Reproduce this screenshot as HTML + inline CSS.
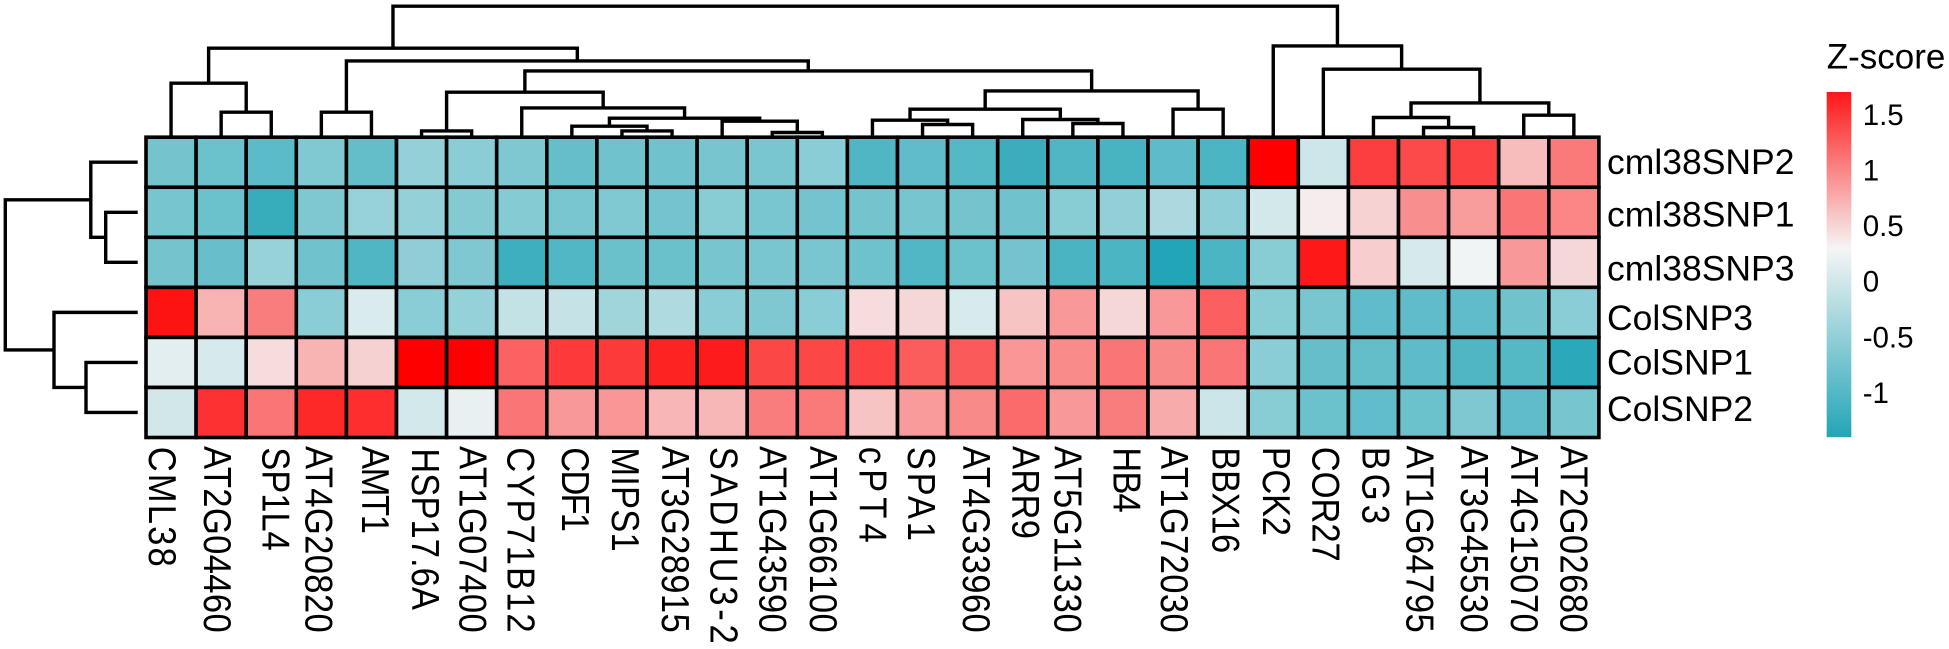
<!DOCTYPE html>
<html lang="en">
<head>
<meta charset="utf-8">
<title>Z-score heatmap</title>
<style>
html,body{margin:0;padding:0;background:#fff;width:1949px;height:649px;overflow:hidden}
svg{display:block}
text{font-family:"Liberation Sans",Arial,sans-serif;fill:#000}
.rl{font-size:35.5px}
.cl{font-size:34.6px}
.lg{font-size:29.5px}
</style>
</head>
<body>
<svg id="chart" xmlns="http://www.w3.org/2000/svg" width="1949" height="649" viewBox="0 0 1949 649">
<rect width="1949" height="649" fill="#fff"/>
<g id="col-dendro" fill="none" stroke="#000" stroke-width="3.4"></g>
<g id="row-dendro" fill="none" stroke="#000" stroke-width="3.4"></g>
<g id="cells" stroke="#000" stroke-width="3.6"></g>

<g>
<text class="rl" x="1607" y="174">cml38SNP2</text>
<text class="rl" x="1607" y="226.7">cml38SNP1</text>
<text class="rl" x="1607" y="280.7">cml38SNP3</text>
<text class="rl" x="1607" y="330">ColSNP3</text>
<text class="rl" x="1607" y="374.3">ColSNP1</text>
<text class="rl" x="1607" y="421">ColSNP2</text>
</g>

<g>
<text class="cl" transform="translate(149 446.7) rotate(90) scale(1 1.12)" textLength="120">CML38</text>
<text class="cl" transform="translate(204 446) rotate(90) scale(1 1.12)" textLength="186.7">AT2G04460</text>
<text class="cl" transform="translate(262.6 447.3) rotate(90) scale(1 1.12)" textLength="103.4">SP1L4</text>
<text class="cl" transform="translate(305.5 446) rotate(90) scale(1 1.12)" textLength="186.7">AT4G20820</text>
<text class="cl" transform="translate(362 446) rotate(90) scale(1 1.12)" textLength="88">AMT1</text>
<text class="cl" transform="translate(412 448.3) rotate(90) scale(1 1.12)" textLength="161.7">HSP17.6A</text>
<text class="cl" transform="translate(459.7 446) rotate(90) scale(1 1.12)" textLength="186.7">AT1G07400</text>
<text class="cl" transform="translate(507.6 447.3) rotate(90) scale(1 1.12)" textLength="185.3">CYP71B12</text>
<text class="cl" transform="translate(562 447.3) rotate(90) scale(1 1.12)" textLength="84.7">CDF1</text>
<text class="cl" transform="translate(612 447.3) rotate(90) scale(1 1.12)" textLength="104.4">MIPS1</text>
<text class="cl" transform="translate(661.8 446) rotate(90) scale(1 1.12)" textLength="186.7">AT3G28915</text>
<text class="cl" transform="translate(710.6 446.7) rotate(90) scale(1 1.12)" textLength="197">SADHU3-2</text>
<text class="cl" transform="translate(759.6 446) rotate(90) scale(1 1.12)" textLength="186.7">AT1G43590</text>
<text class="cl" transform="translate(809.8 446) rotate(90) scale(1 1.12)" textLength="186.7">AT1G66100</text>
<text class="cl" transform="translate(859.6 446.7) rotate(90) scale(1 1.12)" textLength="96">cPT4</text>
<text class="cl" transform="translate(907.8 446.7) rotate(90) scale(1 1.12)" textLength="94.3">SPA1</text>
<text class="cl" transform="translate(962.9 446) rotate(90) scale(1 1.12)" textLength="186.7">AT4G33960</text>
<text class="cl" transform="translate(1012.7 446) rotate(90) scale(1 1.12)" textLength="93">ARR9</text>
<text class="cl" transform="translate(1054.7 446) rotate(90) scale(1 1.12)" textLength="186.7">AT5G11330</text>
<text class="cl" transform="translate(1113.5 447.3) rotate(90) scale(1 1.12)" textLength="65.4">HB4</text>
<text class="cl" transform="translate(1160.8 446) rotate(90) scale(1 1.12)" textLength="186.7">AT1G72030</text>
<text class="cl" transform="translate(1212.6 447.3) rotate(90) scale(1 1.12)" textLength="106">BBX16</text>
<text class="cl" transform="translate(1263 446.7) rotate(90) scale(1 1.12)" textLength="89.3">PCK2</text>
<text class="cl" transform="translate(1312.7 446.7) rotate(90) scale(1 1.12)" textLength="115">COR27</text>
<text class="cl" transform="translate(1362.5 446.7) rotate(90) scale(1 1.12)" textLength="77.3">BG3</text>
<text class="cl" transform="translate(1406.5 445.5) rotate(90) scale(1 1.12)" textLength="187.2">AT1G64795</text>
<text class="cl" transform="translate(1460.8 445.5) rotate(90) scale(1 1.12)" textLength="187.2">AT3G45530</text>
<text class="cl" transform="translate(1511 445.5) rotate(90) scale(1 1.12)" textLength="187.2">AT4G15070</text>
<text class="cl" transform="translate(1560.7 445.5) rotate(90) scale(1 1.12)" textLength="187.2">AT2G02680</text>
</g>

<g id="legend">
<text x="1826.7" y="68.3" font-size="35">Z-score</text>
</g>
</svg>
<script>
// Heatmap values (z-scores), one array per row, in displayed column order
const cml38SNP2 = [-.74,-.81,-.94,-.64,-.87,-.48,-.55,-.65,-.86,-.77,-.77,-.72,-.70,-.55,-1.03,-.91,-.99,-1.21,-1.03,-1.09,-.92,-1.06,1.85,-.02,1.46,1.39,1.43,.66,1.08];
const cml38SNP1 = [-.72,-.81,-1.23,-.65,-.45,-.48,-.62,-.60,-.69,-.64,-.75,-.58,-.70,-.75,-.74,-.72,-.74,-.77,-.58,-.50,-.30,-.53,.03,.35,.52,.95,.86,1.11,1.00];
const cml38SNP3 = [-.74,-.84,-.45,-.77,-1.03,-.52,-.65,-1.18,-1.01,-.82,-.82,-.72,-.70,-.70,-.79,-1.01,-.81,-.75,-1.08,-1.06,-1.40,-1.06,-.58,1.70,.55,.05,.27,.89,.49];
const ColSNP3 = [1.73,.72,1.06,-.55,.08,-.55,-.47,-.11,-.09,-.38,-.26,-.55,-.65,-.55,.46,.49,.06,.61,.89,.49,.89,1.25,-.58,-.69,-.91,-.91,-.91,-.77,-.55];
const ColSNP1 = [.15,.05,.46,.72,.53,1.85,1.85,1.23,1.49,1.48,1.63,1.68,1.40,1.40,1.43,1.26,1.28,.90,.97,1.11,.98,1.11,-.55,-.86,-.87,-.92,-1.03,-.99,-1.33];
const ColSNP2 = [.01,1.54,1.11,1.60,1.56,.03,.20,1.11,.89,.90,.70,.69,1.06,1.08,.61,.87,.98,1.17,.89,1.06,.77,-.04,-.58,-.81,-.89,-.81,-.65,-.91,-.72];
const heatRows = [cml38SNP2, cml38SNP1, cml38SNP3, ColSNP3, ColSNP1, ColSNP2];

// Column clustering: merge i creates node (29 + i) from two existing nodes
const colMergeA = [1,0,3,5,9,8,12,11,34,7,32,15,14,18,17,41,20,44,39,31,30,25,24,27,51,23,22,49];
const colMergeB = [2,29,4,6,10,33,13,35,36,37,38,16,40,19,42,43,21,45,46,47,48,26,50,28,52,53,54,55];
const colMergeHeight = [2.5,5.4,2.5,.63,.63,1.1,.47,1.6,1.9,2.93,4.5,1.27,1.7,1.37,1.77,2.8,2.8,4.63,6.63,7.63,8.9,.97,1.97,2.2,3.43,6.8,9.13,13.1];

// Row clustering: merge i creates node (6 + i)
const rowMergeA = [1,0,4,3,7];
const rowMergeB = [2,6,5,8,9];
const rowMergeHeight = [3.2,4.69,5.17,8.37,13.24];

// Legend
const legendTicks = [1.5,1,0.5,0,-0.5,-1];
const legendMax = 1.709;
const legendMin = -1.397;

const SVGNS = 'http://www.w3.org/2000/svg';
const gridLeft = 146, gridTop = 137.2, cellW = 50.1, cellH = 50.05;
const rowLeafX = 137.7;
const colX = i => gridLeft + cellW * i;
const rowY = r => gridTop + cellH * r;
const colHeightY = h => gridTop - h * 10;
const rowHeightX = h => rowLeafX - h * 10;
const legendY = z => 281.7 - z * 111.2;

function zColor(z) {
  const mid = 0.3;
  if (z >= mid) {
    const t = Math.min(1, (z - mid) / 1.55);
    const c = Math.round(245 * (1 - t));
    return 'rgb(' + Math.round(245 + 10 * t) + ',' + c + ',' + c + ')';
  }
  const t = Math.min(1, (mid - z) / 1.7);
  return 'rgb(' + Math.round(245 - 211 * t) + ',' + Math.round(245 - 80 * t) + ',' + Math.round(245 - 63 * t) + ')';
}

const cellsG = document.getElementById('cells');
heatRows.forEach(function (row, r) {
  row.forEach(function (z, c) {
    const el = document.createElementNS(SVGNS, 'rect');
    el.setAttribute('x', colX(c));
    el.setAttribute('y', rowY(r));
    el.setAttribute('width', cellW);
    el.setAttribute('height', cellH);
    el.setAttribute('fill', zColor(z));
    
    
    cellsG.appendChild(el);
  });
});

// Column dendrogram
const colG = document.getElementById('col-dendro');
const colPos = {};
const colTop = {};
heatRows[0].forEach(function (v, i) {
  colPos[i] = colX(i) + cellW / 2;
  colTop[i] = gridTop;
});
colMergeHeight.forEach(function (h, i) {
  const a = colMergeA[i], b = colMergeB[i], id = heatRows[0].length + i;
  const y = colHeightY(h);
  const el = document.createElementNS(SVGNS, 'path');
  el.setAttribute('d', 'M' + colPos[a] + ' ' + colTop[a] + 'V' + y + 'H' + colPos[b] + 'V' + colTop[b]);
  
  
  colG.appendChild(el);
  colPos[id] = (colPos[a] + colPos[b]) / 2;
  colTop[id] = y;
});

// Row dendrogram
const rowG = document.getElementById('row-dendro');
const rowPos = {};
const rowEnd = {};
heatRows.forEach(function (v, i) {
  rowPos[i] = rowY(i) + cellH / 2;
  rowEnd[i] = rowLeafX;
});
rowMergeHeight.forEach(function (h, i) {
  const a = rowMergeA[i], b = rowMergeB[i], id = heatRows.length + i;
  const x = rowHeightX(h);
  const el = document.createElementNS(SVGNS, 'path');
  el.setAttribute('d', 'M' + rowEnd[a] + ' ' + rowPos[a] + 'H' + x + 'V' + rowPos[b] + 'H' + rowEnd[b]);
  
  
  rowG.appendChild(el);
  rowPos[id] = (rowPos[a] + rowPos[b]) / 2;
  rowEnd[id] = x;
});

// Legend colour bar and ticks
const legendG = document.getElementById('legend');
const barTop = Math.round(legendY(legendMax)), barBottom = Math.round(legendY(legendMin));
for (let y = barTop; y < barBottom; y++) {
  const z = (281.7 - (y + 0.5)) / 111.2;
  const el = document.createElementNS(SVGNS, 'rect');
  el.setAttribute('x', 1826.7);
  el.setAttribute('y', y);
  el.setAttribute('width', 24.6);
  el.setAttribute('height', 1.2);
  el.setAttribute('fill', zColor(z));
  
  
  legendG.appendChild(el);
}
legendTicks.forEach(function (v) {
  const el = document.createElementNS(SVGNS, 'text');
  el.setAttribute('class', 'lg');
  el.setAttribute('x', 1862.7);
  el.setAttribute('y', legendY(v) + 10);
  el.textContent = String(v);
  
  
  legendG.appendChild(el);
});
</script>
</body>
</html>
